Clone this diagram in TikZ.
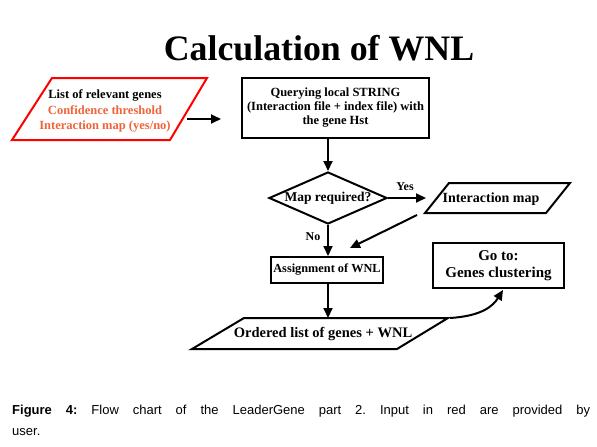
\documentclass[tikz,border=0pt]{standalone}
\usepackage{fontspec}
\setmainfont{Liberation Serif}
\newfontfamily\capfont{Liberation Sans}
\usetikzlibrary{arrows.meta,shapes.geometric}
\definecolor{inred}{HTML}{F0643A}
\begin{document}
\begin{tikzpicture}[x=1pt,y=-1pt,
  arr/.style={line width=2pt, -{Triangle[length=10pt,width=9pt]}},
  boxst/.style={draw, line width=2pt, inner sep=0pt, font=\bfseries, align=center},
  paraline/.style={line width=2pt, line join=miter},
  ptext/.style={inner sep=0pt, align=center},
  lbl/.style={font=\bfseries\fontsize{12}{12}\selectfont, inner sep=0pt}
]
\useasboundingbox (0,0) rectangle (597,447);
\fill[white] (0,0) rectangle (597,447);

\node[anchor=base, inner sep=0pt, font=\fontsize{35.8}{36}\selectfont\bfseries] (title) at (319,60) {Calculation of WNL};

% input
\draw[paraline, draw=red] (52,78) -- (207,78) -- (170,140) -- (12,140) -- cycle;
\node[ptext, font=\bfseries\fontsize{12.5}{15.5}\selectfont] (input) at (105,111)
  {List of relevant genes\\ \textcolor{inred}{Confidence threshold}\\ \textcolor{inred}{Interaction map (yes/no)}};

% query
\node[boxst, minimum width=187pt, minimum height=60pt, font=\bfseries\fontsize{12.5}{14}\selectfont] (query) at (335.5,108)
  {Querying local STRING\\(Interaction file + index file) with\\the gene Hst};

% decision
\node[diamond, draw, line width=2pt, inner sep=0pt, minimum width=118pt, minimum height=52pt, aspect=2.27,
      font=\bfseries\fontsize{13.5}{13.5}\selectfont] (dec) at (328,198) {Map required?};

% interaction map
\draw[paraline] (449,183) -- (570,183) -- (546,213) -- (425,213) -- cycle;
\node[ptext, font=\bfseries\fontsize{14}{14}\selectfont] (imap) at (491,199) {Interaction map};

% assignment
\node[boxst, minimum width=112pt, minimum height=26pt, font=\bfseries\fontsize{12.3}{12}\selectfont] (assign) at (327,270) {Assignment of WNL};

% output
\draw[paraline] (244,318) -- (448,318) -- (397,349) -- (192,349) -- cycle;
\node[ptext, font=\bfseries\fontsize{14.5}{14.5}\selectfont] (out) at (323,333.5) {Ordered list of genes + WNL};

% go to
\node[boxst, minimum width=131pt, minimum height=45pt, font=\bfseries\fontsize{15}{17}\selectfont] (goto) at (498.5,265.5)
  {Go to:\\Genes clustering};

% labels
\node[lbl] (yes) at (405,187) {Yes};
\node[lbl] (no) at (313,237) {No};

% free ends
\coordinate (a1s) at (187,119);
\coordinate (a1e) at (221,119);
\coordinate (yesend) at (426,198);
\coordinate (dgs) at (417,215);
\coordinate (dge) at (350,248);
\coordinate (outtop) at (328,318);
\coordinate (cs) at (450,318);
\coordinate (ce) at (503,290);

% connectors
\draw[arr] (a1s) -- (a1e);
\draw[arr] (query.south -| dec.north) -- (dec.north);
\draw[arr] (dec.east) -- (yesend);
\draw[arr] (dgs) -- (dge);
\draw[arr] (dec.south) -- (dec.south |- assign.north);
\draw[arr] (assign.south -| dec.south) -- (outtop);
\draw[arr] (cs) .. controls (482,316) and (493,306) .. (ce);

% caption
\node[anchor=north west, text width=578pt, align=justify, inner sep=0pt,
      font=\capfont\fontsize{13}{20.5}\selectfont] (cap) at (12,405)
  {\frenchspacing\textbf{Figure 4:} Flow chart of the LeaderGene part 2. Input in red are provided by\linebreak user.};
\end{tikzpicture}
\end{document}
